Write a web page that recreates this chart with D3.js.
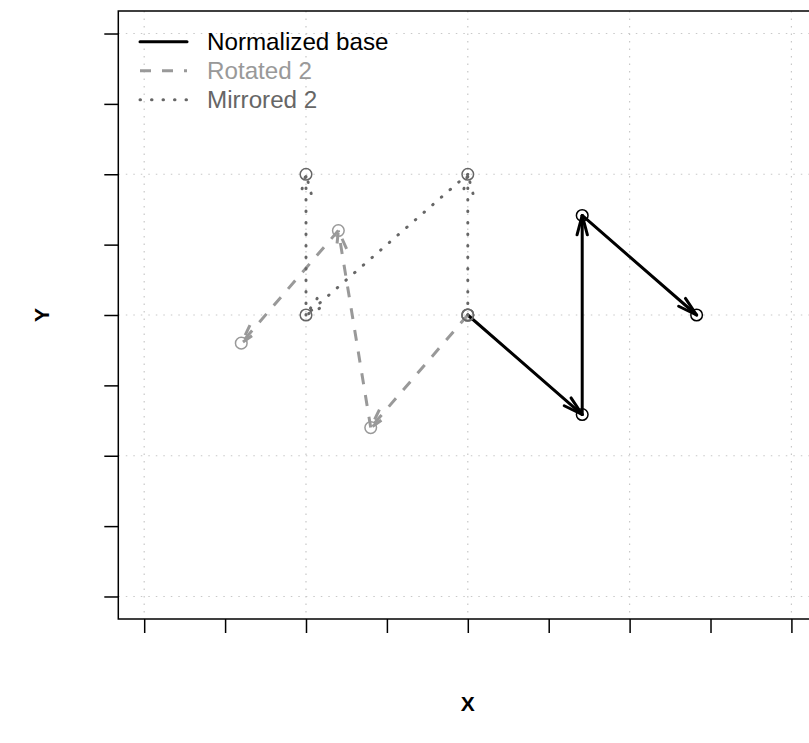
<!DOCTYPE html>
<html>
<head>
<meta charset="utf-8">
<script src="https://cdn.jsdelivr.net/npm/d3@7"></script>
<style>
  html, body { margin: 0; padding: 0; background: #fff; overflow: hidden; }
  svg { display: block; font-family: "Liberation Sans", Arial, Helvetica, sans-serif; }
</style>
</head>
<body>
<svg id="chart" width="809" height="743"></svg>
<script>
// Curve generators: the normalized base motif and two transformed copies
const baseX = [0, 0.7071, 0.7071, 1.4142];
const baseY = [0, -0.7071, 0.7071, 0];
const rotatedX = [0, -0.6, -0.8, -1.4];
const rotatedY = [0, -0.8, 0.6, -0.2];
const mirroredX = [0, 0, -1, -1];
const mirroredY = [0, 1, 0, 1];

const seriesNames = ["Normalized base", "Rotated 2", "Mirrored 2"];
const xTicks = [-2, -1.5, -1, -0.5, 0, 0.5, 1, 1.5, 2];
const yTicks = [-2, -1.5, -1, -0.5, 0, 0.5, 1, 1.5, 2];
const gridVals = [-2, -1, 0, 1, 2];

const series = [
  { name: seriesNames[0], xs: baseX, ys: baseY, color: "#000000", dash: null, cap: "round" },
  { name: seriesNames[1], xs: rotatedX, ys: rotatedY, color: "#999999", dash: "11,11", cap: "butt" },
  { name: seriesNames[2], xs: mirroredX, ys: mirroredY, color: "#666666", dash: "0.5,11", cap: "round" }
];

const svg = d3.select("#chart");
const plotLeft = 118.3, plotRight = 817.3, plotTop = 11, plotBottom = 619;

const x = d3.scaleLinear().domain([-2.16, 2.16]).range([plotLeft, plotRight]);
const y = d3.scaleLinear().domain([-2.16, 2.16]).range([plotBottom, plotTop]);

// dotted grid
const grid = svg.append("g").attr("stroke", "#c8c8c8").attr("stroke-width", 1.2)
  .attr("stroke-dasharray", "1.5,6");
grid.selectAll("line.v").data(gridVals).join("line")
  .attr("x1", d => x(d)).attr("x2", d => x(d))
  .attr("y1", plotTop).attr("y2", plotBottom);
grid.selectAll("line.h").data(gridVals).join("line")
  .attr("x1", plotLeft).attr("x2", plotRight)
  .attr("y1", d => y(d)).attr("y2", d => y(d));

// axes with ticks only
const xAxis = d3.axisBottom(x).tickValues(xTicks).tickSize(14).tickFormat("").tickSizeOuter(0);
const yAxis = d3.axisLeft(y).tickValues(yTicks).tickSize(14).tickFormat("").tickSizeOuter(0);
const gx = svg.append("g").attr("transform", `translate(0,${plotBottom})`).call(xAxis);
const gy = svg.append("g").attr("transform", `translate(${plotLeft},0)`).call(yAxis);
[gx, gy].forEach(g => {
  g.select(".domain").remove();
  g.selectAll(".tick line").attr("stroke", "#000").attr("stroke-width", 1.5);
});

// plot box
svg.append("rect")
  .attr("x", plotLeft).attr("y", plotTop)
  .attr("width", plotRight - plotLeft).attr("height", plotBottom - plotTop)
  .attr("fill", "none").attr("stroke", "#000").attr("stroke-width", 1.5);

// arrows between successive points, plus open circles at each point
const headLen = 20, headAngle = 15 * Math.PI / 180;
series.forEach(s => {
  const g = svg.append("g");
  const pts = s.xs.map((v, i) => [x(v), y(s.ys[i])]);
  for (let i = 0; i < pts.length - 1; i++) {
    const [x0, y0] = pts[i], [x1, y1] = pts[i + 1];
    const ang = Math.atan2(y1 - y0, x1 - x0);
    const a1 = ang + Math.PI - headAngle, a2 = ang + Math.PI + headAngle;
    const path = d3.path();
    path.moveTo(x0, y0); path.lineTo(x1, y1);
    const head = d3.path();
    head.moveTo(x1 + headLen * Math.cos(a1), y1 + headLen * Math.sin(a1));
    head.lineTo(x1, y1);
    head.lineTo(x1 + headLen * Math.cos(a2), y1 + headLen * Math.sin(a2));
    [path, head].forEach(p => {
      g.append("path").attr("d", p.toString())
        .attr("fill", "none").attr("stroke", s.color).attr("stroke-width", 3)
        .attr("stroke-linecap", s.cap).attr("stroke-linejoin", "round")
        .attr("stroke-dasharray", s.dash);
    });
  }
  g.selectAll("circle").data(pts).join("circle")
    .attr("cx", d => d[0]).attr("cy", d => d[1]).attr("r", 5.8)
    .attr("fill", "none").attr("stroke", s.color).attr("stroke-width", 1.5);
});

// legend
const legend = svg.append("g");
series.forEach((s, i) => {
  const ly = 41.7 + i * 29;
  legend.append("line")
    .attr("x1", 140).attr("x2", 187).attr("y1", ly).attr("y2", ly)
    .attr("stroke", s.color).attr("stroke-width", 3)
    .attr("stroke-linecap", s.cap).attr("stroke-dasharray", s.dash);
  legend.append("text")
    .attr("x", 207).attr("y", ly + 8.5)
    .attr("font-size", 24.2).attr("fill", s.color)
    .text(s.name);
});

// axis titles
svg.append("text").attr("x", x(0)).attr("y", 711)
  .attr("text-anchor", "middle").attr("font-weight", "bold").attr("font-size", 21)
  .text("X");
svg.append("text")
  .attr("transform", `translate(49,${y(0)}) rotate(-90)`)
  .attr("text-anchor", "middle").attr("font-weight", "bold").attr("font-size", 21)
  .text("Y");
</script>
</body>
</html>
